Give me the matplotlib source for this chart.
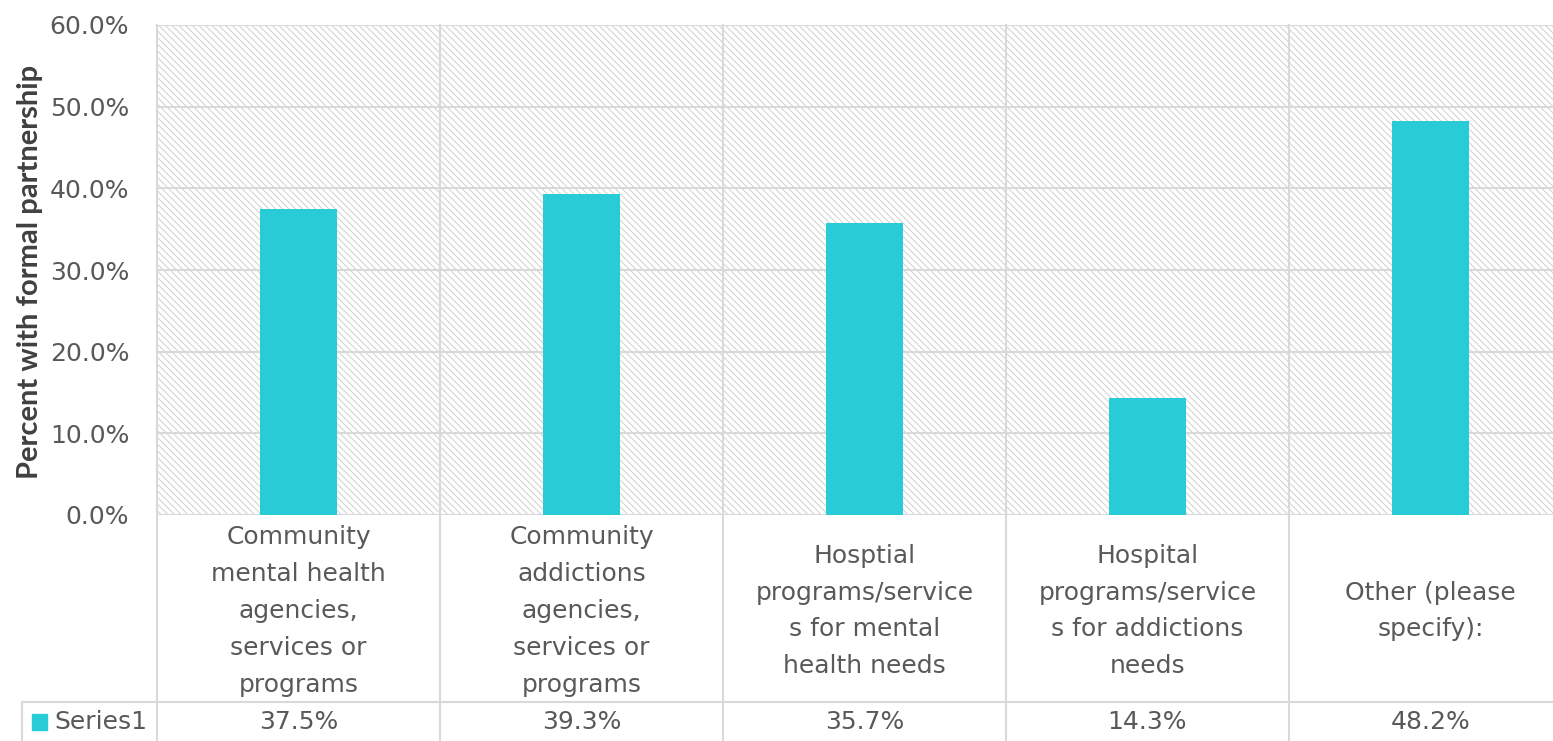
import matplotlib
matplotlib.use('Agg')
import matplotlib.pyplot as plt
from matplotlib.patches import Rectangle
from matplotlib.ticker import FuncFormatter
import numpy as np

categories = ["Community\nmental health\nagencies,\nservices or\nprograms",
              "Community\naddictions\nagencies,\nservices or\nprograms",
              "Hosptial\nprograms/service\ns for mental\nhealth needs",
              "Hospital\nprograms/service\ns for addictions\nneeds",
              "Other (please\nspecify):"]
series_name = "Series1"
values = [37.5, 39.3, 35.7, 14.3, 48.2]
y_ticks = [0, 10, 20, 30, 40, 50, 60]

bar_color = '#27CCD6'
grid_color = '#d9d9d9'
text_color = '#595959'

plt.rcParams['font.family'] = ['DejaVu Sans']
plt.rcParams['hatch.color'] = '#d0d0d0'
plt.rcParams['hatch.linewidth'] = 0.7

W, H = 1553, 741
fig = plt.figure(figsize=(W / 100, H / 100), dpi=100)
left, right, top, bottom = 157, 1572, 25, 515
ax = fig.add_axes([left / W, 1 - bottom / H, (right - left) / W, (bottom - top) / H])

# hatched plot background
ax.add_patch(Rectangle((0, 0), 1, 1, transform=ax.transAxes, facecolor='white',
                       edgecolor='#d0d0d0', hatch='\\\\\\\\\\', lw=0, zorder=0))

x = np.arange(len(values))
ax.bar(x, values, width=0.27, color=bar_color, zorder=3)

ax.set_xlim(-0.5, len(values) - 0.5)
ax.set_ylim(0, 60)
ax.set_yticks(y_ticks)
ax.yaxis.set_major_formatter(FuncFormatter(lambda v, p: "{:.1f}%".format(v)))
ax.tick_params(axis='y', length=0, pad=20, labelsize=18, labelcolor=text_color)
ax.set_xticks([])
ax.grid(axis='y', color=grid_color, lw=1.5, zorder=1)
for s in ax.spines.values():
    s.set_visible(False)

# data table below the axis
row_line = (bottom - 702) / (bottom - top)
table_bottom = (bottom - 760) / (bottom - top)
for b in np.arange(len(values) + 1) - 0.5:
    ax.plot([b, b], [1, table_bottom], color=grid_color, lw=1.5,
            transform=ax.get_xaxis_transform(), clip_on=False, zorder=2)
x_first = -0.5 - (left - 22) / ((right - left) / len(values))
ax.plot([x_first, len(values) - 0.5], [row_line, row_line], color=grid_color, lw=1.5,
        transform=ax.get_xaxis_transform(), clip_on=False)
ax.plot([x_first, x_first], [row_line, table_bottom], color=grid_color, lw=1.5,
        transform=ax.get_xaxis_transform(), clip_on=False)

cat_y = (bottom - 611) / (bottom - top)
val_y = (bottom - 722) / (bottom - top)
for i, (c, v) in enumerate(zip(categories, values)):
    ax.text(i, cat_y, c, transform=ax.get_xaxis_transform(), ha='center', va='center',
            fontsize=18, color=text_color, linespacing=1.68)
    ax.text(i, val_y, "{:.1f}%".format(v), transform=ax.get_xaxis_transform(),
            ha='center', va='center', fontsize=18, color=text_color)

ax.add_patch(Rectangle((x_first + 0.035, val_y - 0.016), 0.055, 0.032,
                       transform=ax.get_xaxis_transform(), color=bar_color, clip_on=False))
ax.text(x_first + 0.115, val_y, series_name, transform=ax.get_xaxis_transform(),
        ha='left', va='center', fontsize=18, color=text_color)

fig.text(30 / W, 1 - 272 / H, "Percent with formal partnership", rotation=90,
         ha='center', va='center', fontsize=21, fontweight='bold', color='#404040',
         family=['Lato', 'DejaVu Sans'])

fig.savefig('out.png', dpi=100)
